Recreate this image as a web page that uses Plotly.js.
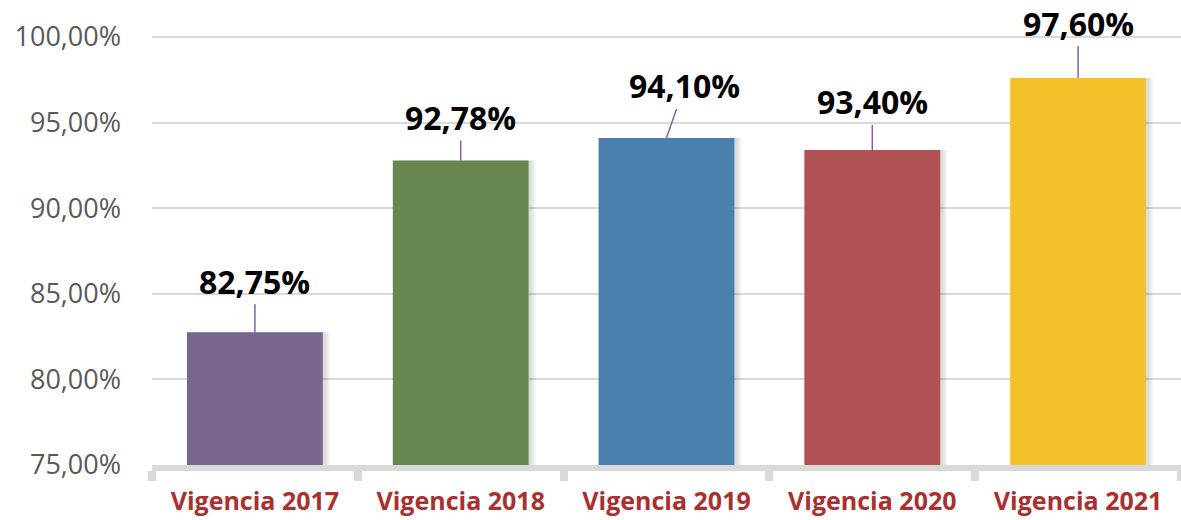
<!DOCTYPE html>
<html>
<head>
<meta charset="utf-8">
<script src="https://cdn.plot.ly/plotly-3.0.1.min.js"></script>
<style>html,body{margin:0;padding:0;background:#fff;}#chart{width:1181px;height:520px;}</style>
</head>
<body>
<div id="chart"></div>
<script>
const categories = ["Vigencia 2017", "Vigencia 2018", "Vigencia 2019", "Vigencia 2020", "Vigencia 2021"];
const values = [82.75, 92.78, 94.10, 93.40, 97.60];
const valueLabels = ["82,75%", "92,78%", "94,10%", "93,40%", "97,60%"];
const barColors = ["#79668c", "#66874f", "#4a7fae", "#b05153", "#f5c12b"];
const tickValues = [75, 80, 85, 90, 95, 100];
const tickLabels = ["75,00%", "80,00%", "85,00%", "90,00%", "95,00%", "100,00%"];
const labelDx = [0, 0, 18, 0, 0];
const labelDy = [-51, -43, -52, -48, -55];

const base = values.map(() => 75);
function shadowTrace(off, alpha) {
  return {
    type: "bar", x: categories, y: values.map(v => v - 75), base: base,
    width: 0.66, offset: off,
    marker: {color: "rgba(0,0,0," + alpha + ")", line: {width: 0}},
    hoverinfo: "skip", showlegend: false
  };
}
const bars = {
  type: "bar", x: categories, y: values.map(v => v - 75), base: base,
  width: 0.66, offset: -0.33,
  marker: {color: barColors, line: {width: 0}},
  showlegend: false
};

const annotations = categories.map((c, i) => ({
  x: c, y: values[i], xref: "x", yref: "y",
  text: valueLabels[i], showarrow: true, arrowhead: 0, arrowwidth: 1.5,
  arrowcolor: "#7f62a2", ax: labelDx[i], ay: labelDy[i], standoff: 0,
  font: {family: "Open Sans", size: 32, color: "#000", weight: "bold"}
}));

const layout = {
  width: 1181, height: 520,
  margin: {l: 152, r: 0, t: 0, b: 55},
  paper_bgcolor: "#fff", plot_bgcolor: "#fff",
  barmode: "overlay",
  xaxis: {
    type: "category", showgrid: false, zeroline: false,
    showline: true, linecolor: "#d9d9d9", linewidth: 6,
    ticks: "outside", tickson: "boundaries", ticklen: 10, tickwidth: 8, tickcolor: "#d9d9d9",
    tickfont: {family: "Open Sans", size: 25, color: "#a8302f", weight: "bold"},
    ticklabelstandoff: 9
  },
  yaxis: {
    range: [75, 102.16], tickvals: tickValues, ticktext: tickLabels,
    showgrid: true, gridcolor: "#d9d9d9", gridwidth: 2, zeroline: false,
    showline: false, ticks: "",
    tickfont: {family: "Open Sans", size: 27, color: "#595959"},
    ticklabelstandoff: 30
  },
  annotations: annotations
};

Plotly.newPlot("chart", [shadowTrace(-0.295, 0.04), shadowTrace(-0.305, 0.05), shadowTrace(-0.315, 0.05), bars], layout, {displayModeBar: false, staticPlot: true});
</script>
</body>
</html>
